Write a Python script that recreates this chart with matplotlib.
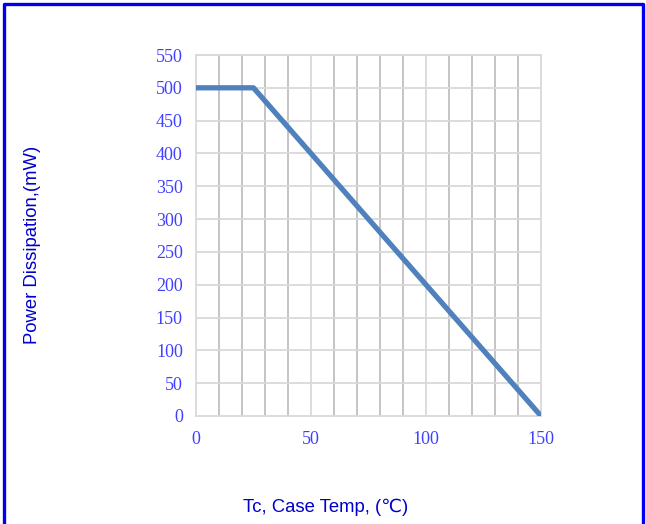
import matplotlib
matplotlib.use("Agg")
import matplotlib.pyplot as plt

temp = [0, 25, 150]
power = [500, 500, 0]
x_ticks = [0, 50, 100, 150]
y_ticks = list(range(0, 551, 50))

fig = plt.figure(figsize=(6.46, 5.24), dpi=100)
ax = fig.add_axes([196/646, 1-416/524, (541-196)/646, (416-55)/524])

for xv in range(10, 150, 10):
    c = '#d9d9d9' if xv % 50 == 0 else '#bfbfbf'
    ax.axvline(xv, color=c, lw=1.3, zorder=1)
for yv in y_ticks[1:]:
    ax.axhline(yv, color='#d9d9d9', lw=1.3, zorder=1)

ax.plot(temp, power, color='#4f81bd', lw=3.8, solid_capstyle='butt', zorder=3)
ax.set_xlim(0, 150)
ax.set_ylim(0, 550)
ax.set_xticks(x_ticks)
ax.set_yticks(y_ticks)
for s in ax.spines.values():
    s.set_color('#d9d9d9')
    s.set_linewidth(1.3)
ax.tick_params(length=0, labelsize=13, labelcolor='#4040ff')
ax.tick_params(axis='y', pad=9.5)
ax.tick_params(axis='x', pad=11)
for lab in ax.get_xticklabels() + ax.get_yticklabels():
    lab.set_family('Liberation Serif')

fig.text(33/646, 1-245/524, 'Power Dissipation,(mW)', rotation=90, ha='center', va='center',
         fontsize=13.3, color='#0000cc', family=['Liberation Sans', 'DejaVu Sans'])
fig.text(326/646, 1-507/524, 'Tc, Case Temp, (\u2103)', ha='center', va='center',
         fontsize=13.3, color='#0000cc', family=['Liberation Sans', 'DejaVu Sans'])

fig.add_artist(plt.Line2D([3.5/646, 3.5/646, 642.5/646, 642.5/646], [0, 1-4/524, 1-4/524, 0],
                          transform=fig.transFigure, color='#0000ee', lw=2.4))

fig.savefig('out.png', dpi=100)
